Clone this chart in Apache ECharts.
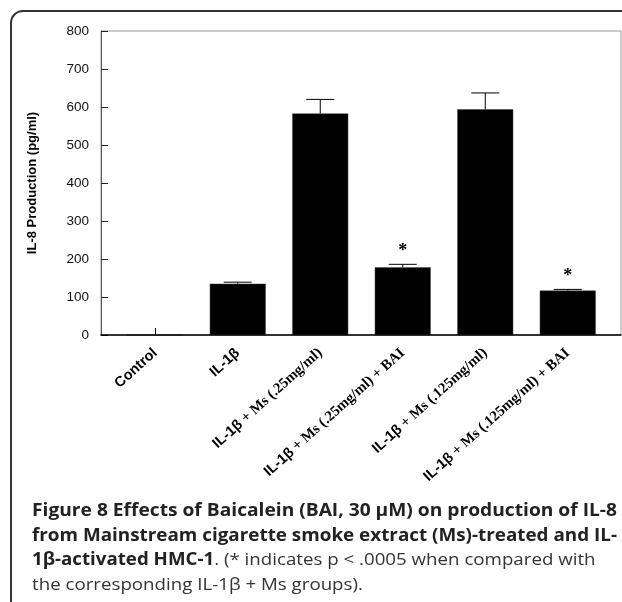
<!DOCTYPE html>
<html>
<head>
<meta charset="utf-8">
<script src="https://cdn.jsdelivr.net/npm/echarts@6/dist/echarts.min.js"></script>
<style>html,body{margin:0;padding:0;background:#fff;}#c{width:622px;height:602px;}</style>
</head>
<body>
<div id="c"></div>
<script>
var categories = ['Control', 'IL-1β', 'IL-1β + Ms (.25mg/ml)', 'IL-1β + Ms (.25mg/ml) + BAI', 'IL-1β + Ms (.125mg/ml)', 'IL-1β + Ms (.125mg/ml) + BAI'];
var means = [0, 135, 583, 178, 594, 117];
var errors = [0, 4, 37, 8, 43, 3];
var significant = [false, false, false, true, false, true];
var yTicks = [0, 100, 200, 300, 400, 500, 600, 700, 800];
var captionLines = [
  [['b', 'Figure 8 Effects of Baicalein (BAI, 30 μM) on production of IL-8']],
  [['b', 'from Mainstream cigarette smoke extract (Ms)-treated and IL-']],
  [['b', '1β-activated HMC-1'], ['r', '. (* indicates p < .0005 when compared with']],
  [['r', 'the corresponding IL-1β + Ms groups).']]
];
var captionJustify = [true, true, false, false];

var chart = echarts.init(document.getElementById('c'));
var sans = 'Liberation Sans, Arial, sans-serif';
var serif = 'Liberation Serif, Times New Roman, serif';

var capFontSize = 17, capLeft = 32, capRight = 617, capTop = 499, capLineH = 24.5, capBaseScale = 1.1;
var capFonts = {b: 'bold ' + capFontSize + 'px "Open Sans"', r: capFontSize + 'px "Open Sans"'};
var mctx = document.createElement('canvas').getContext('2d');
function lineWidth(line) {
  var w = 0;
  line.forEach(function (p) { mctx.font = capFonts[p[0]]; w += mctx.measureText(p[1]).width; });
  return w;
}

var captionGraphics = captionLines.map(function (line, k) {
  var w = lineWidth(line);
  var sx = captionJustify[k] ? (capRight - capLeft) / w : capBaseScale;
  return {
    type: 'text', silent: true,
    x: capLeft, y: capTop + k * capLineH, scaleX: sx, scaleY: 1,
    style: {
      text: line.map(function (p) { return '{' + p[0] + '|' + p[1] + '}'; }).join(''),
      rich: {
        b: {fontFamily: 'Open Sans', fontWeight: 'bold', fontSize: capFontSize, fill: '#222', lineHeight: capLineH},
        r: {fontFamily: 'Open Sans', fontWeight: 'normal', fontSize: capFontSize, fill: '#333', lineHeight: capLineH}
      }
    }
  };
});

var option = {
  animation: false,
  backgroundColor: '#fff',
  graphic: [{
    type: 'rect', silent: true, z: -1,
    shape: {x: 11, y: 11, width: 700, height: 700, r: 12},
    style: {fill: 'none', stroke: '#333', lineWidth: 2}
  }].concat(captionGraphics),
  grid: [
    {left: 101, right: 1, top: 31, bottom: 267, show: true, borderColor: '#999', borderWidth: 1, backgroundColor: 'transparent'},
    {left: 114, right: 13, top: 31, bottom: 267}
  ],
  xAxis: [
    {type: 'category', gridIndex: 0, data: categories, axisLine: {show: true, lineStyle: {color: '#000', width: 1.5}}, axisTick: {show: false}, axisLabel: {show: false}, z: 5},
    {type: 'category', gridIndex: 1, data: categories,
     axisLine: {show: false},
     axisTick: {show: true, inside: true, alignWithLabel: true, length: 7, lineStyle: {color: '#000'}},
     axisLabel: {
       rotate: 42, margin: 16, interval: 0,
       formatter: function (v) {
         if (v.indexOf('IL-1β ') === 0) {
           return '{s|IL-1β}{t|' + v.slice(5) + '}';
         }
         return '{s|' + v + '}';
       },
       rich: {
         s: {fontFamily: sans, fontWeight: 'bold', fontSize: 14.5, color: '#000'},
         t: {fontFamily: serif, fontWeight: 'bold', fontSize: 14.7, color: '#000'}
       }
     }}
  ],
  yAxis: [
    {type: 'value', gridIndex: 0, min: 0, max: 800, interval: 100,
     axisLine: {show: true, lineStyle: {color: '#555'}},
     axisTick: {show: true, inside: true, length: 7, lineStyle: {color: '#222'}},
     splitLine: {show: false},
     axisLabel: {fontFamily: sans, fontSize: 13.5, color: '#111', margin: 12,
       formatter: function (v) { return yTicks.indexOf(v) >= 0 ? String(v) : ''; }},
     name: 'IL-8 Production (pg/ml)', nameLocation: 'middle', nameGap: 62, nameRotate: 90,
     nameTextStyle: {fontFamily: sans, fontWeight: 'bold', fontSize: 13, color: '#000'}},
    {type: 'value', gridIndex: 1, min: 0, max: 800, interval: 100, show: false}
  ],
  series: [
    {type: 'bar', xAxisIndex: 1, yAxisIndex: 1, data: means, barWidth: 56,
     itemStyle: {color: '#000', borderColor: '#444', borderWidth: 0.5}, z: 3},
    {type: 'custom', xAxisIndex: 1, yAxisIndex: 1, z: 4,
     data: means.map(function (m, i) { return [i, m, errors[i]]; }),
     renderItem: function (params, api) {
       var i = api.value(0), m = api.value(1), e = api.value(2);
       var children = [];
       var base = api.coord([i, m]);
       var top = api.coord([i, m + e]);
       if (e > 0) {
         children.push({type: 'line', shape: {x1: base[0], y1: base[1], x2: top[0], y2: top[1]}, style: {stroke: '#000', lineWidth: 1}});
         children.push({type: 'line', shape: {x1: top[0] - 14, y1: top[1], x2: top[0] + 14, y2: top[1]}, style: {stroke: '#000', lineWidth: 1}});
       }
       if (significant[i]) {
         children.push({type: 'text', style: {text: '*', x: top[0], y: top[1] - 4, textAlign: 'center', textVerticalAlign: 'bottom', font: 'bold 18px ' + serif, fill: '#000'}});
       }
       return {type: 'group', children: children};
     }}
  ]
};
chart.setOption(option);
</script>
</body>
</html>
